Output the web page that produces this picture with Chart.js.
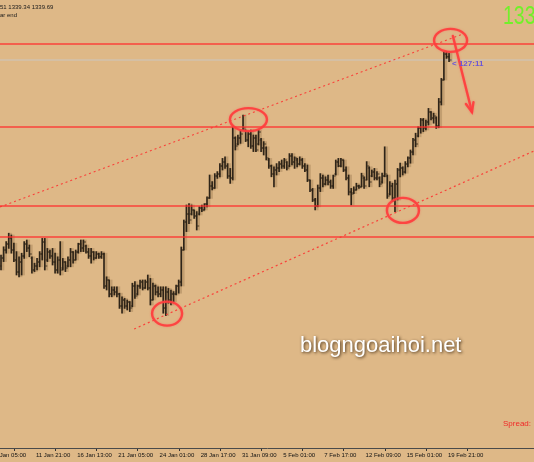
<!DOCTYPE html>
<html><head><meta charset="utf-8">
<script src="https://cdn.jsdelivr.net/npm/chart.js@4.4.1/dist/chart.umd.min.js"></script>
<style>html,body{margin:0;padding:0;background:#DEB887;overflow:hidden}canvas{display:block}</style>
</head><body>
<canvas id="c" width="534" height="462"></canvas>
<script>
// ---- data (H4 bars) ----
const highs = [1292.25,1294.3,1295.6,1297.7,1297.25,1295.2,1293.1,1291.8,1292.7,1295.6,
1296,1294.75,1291.8,1290.2,1291.4,1293.1,1296.4,1296.4,1293.9,1293.5,
1293.9,1292.7,1291.8,1295.6,1291.4,1290.6,1291.8,1293.9,1293.1,1293.5,
1295.2,1296,1296,1294.75,1293.9,1293.9,1293.1,1293.1,1292.7,1293.1,
1292.7,1286.8,1286,1284.3,1284.3,1284.3,1282.7,1281.8,1281.4,1281,
1280.6,1285.2,1285.6,1284.75,1286,1286,1286,1287.25,1286.4,1285.2,
1284.75,1284.3,1284.3,1284.3,1284.3,1283.9,1283.5,1283.1,1284.75,1286,
1294.25,1301,1304.75,1305.1,1304.75,1303.5,1303.1,1304.3,1304.75,1305.1,
1306.8,1312.25,1310.6,1312.6,1313.1,1315.1,1316.4,1316.8,1315.1,1313.9,
1324.3,1321.8,1322.25,1323.5,1327.25,1323.5,1323.1,1323.5,1322.25,1322.25,
1323.5,1321.4,1320.6,1319.3,1316.4,1314.75,1314.3,1315.1,1315.6,1316,
1316.4,1315.6,1317.6,1317.6,1316.8,1316.4,1316.8,1316.4,1315.1,1314.75,
1311,1308.9,1306.4,1309.75,1312.6,1312.25,1311.8,1312.25,1311,1312.25,
1316,1316.4,1316.4,1316,1314.3,1312.25,1308.9,1309.3,1310.2,1309.75,
1312.7,1311.8,1315.6,1314.3,1313.5,1313.9,1313.1,1311.8,1312.7,1319.3,
1312.25,1310.6,1310.2,1311,1313.9,1315.2,1314.3,1315.6,1316.8,1318.5,
1321.4,1322.7,1324.3,1326.4,1326.4,1326,1328.9,1328.1,1327.7,1326.8,
1331.4,1336.4,1343.1,1343.1,1342.7];
const lows = [1288.5,1290.6,1292.7,1293.9,1292.7,1290.6,1287.25,1286.8,1287.25,1291.4,
1293.1,1291.8,1287.7,1288.1,1288.5,1289.3,1291,1288.5,1290.6,1291.4,
1289.75,1287.7,1287.7,1287.25,1288.5,1288.1,1289.3,1289.3,1290.2,1291,
1292.7,1293.1,1293.1,1292.7,1291.4,1290.2,1291,1291.4,1291.4,1291.4,
1283.9,1283.5,1281.8,1281.8,1282.25,1281.8,1278.9,1277.7,1278.9,1278.5,
1278.1,1279.3,1281.4,1282.25,1283.9,1283.5,1283.9,1283.5,1279.75,1281,
1282.25,1281.8,1281.8,1277.7,1277.1,1280.2,1279.75,1280.6,1282.25,1282.7,
1284.5,1293.5,1298.1,1300.1,1302.25,1301.4,1298.5,1302.25,1303.1,1303.5,
1304.3,1306.4,1308.5,1308.9,1311.4,1311.8,1313.5,1313.9,1311.4,1310.15,
1311,1318.5,1319.75,1320.15,1323.5,1320.6,1319.3,1318.9,1318.1,1318.1,
1319.75,1318.1,1317.25,1316,1313.9,1311.8,1309.3,1312.25,1313.1,1313.9,
1313.9,1313.5,1314.3,1314.75,1313.9,1314.3,1314.75,1313.9,1313.1,1310.6,
1308.1,1305.6,1303.5,1304.3,1308.1,1309.3,1309.75,1309.75,1308.9,1308.9,
1312.25,1314.3,1314.3,1313.1,1311,1307.25,1304.75,1307.6,1308.5,1308.9,
1309.3,1308.9,1311,1309.3,1311.8,1311,1311,1309.3,1310.2,1311.8,
1306.4,1307.25,1305.6,1303.1,1306,1311.8,1312.25,1312.7,1314.3,1315.2,
1317.25,1319.3,1321.8,1322.7,1323.1,1323.5,1324.75,1326,1325.2,1323.9,
1324.1,1329.75,1336,1341.4,1340.6];
const opens = [1289.5,1291.5,1293.5,1295,1296.5,1293.5,1291,1288,1290.5,1292,
1295,1294,1291.5,1288.5,1289.5,1290.5,1292.5,1295.5,1291,1293,
1292,1290.5,1288.5,1291,1289,1290.5,1289.5,1291,1293,1291,
1293,1295,1294,1294.5,1293,1292,1293,1291.5,1292.5,1291.8,
1292.5,1284.5,1286,1282.5,1283.5,1283,1282.5,1279.5,1281,1279.5,
1280.5,1279.5,1284.5,1282.5,1284.5,1285.5,1284,1285.5,1284,1281,
1284.5,1283,1282.5,1283.5,1279,1283,1281,1282.5,1282.5,1284.5,
1285.5,1293.5,1300.5,1302.5,1302.5,1303.5,1302,1302.5,1304,1303.5,
1305,1306.5,1309.5,1309,1312,1312.5,1314.5,1315.5,1314.5,1312,
1311.5,1321.5,1320,1321.5,1323.5,1323.5,1321,1322.5,1319.5,1321.5,
1320,1321,1319,1319,1316,1314.5,1312.5,1313.5,1314,1315,
1314.5,1315.5,1314.5,1317,1315.5,1316,1315,1316,1314.5,1313.5,
1311,1308.5,1306,1304.5,1309,1311.5,1310,1311,1310.5,1309.5,
1312.5,1315.5,1314.5,1316,1313.5,1311.5,1308,1307.8,1308.5,1309.5,
1309.3,1311.5,1311,1314,1312,1313,1311.5,1311.5,1310.5,1312,
1312,1307.5,1309.5,1306.5,1310,1313.5,1314,1313,1315,1316.5,
1318,1321,1322,1324,1326,1324,1325.5,1328,1326.5,1326.5,
1324.5,1330.5,1336,1342.5,1341.8];
const closes = [1291.5,1293.5,1295,1296.5,1293.5,1291,1288,1290.5,1292,1295,
1294,1292.5,1288.5,1289.5,1290.5,1292.5,1295.5,1289.5,1293,1292,
1290.5,1288.5,1291,1288.5,1290.5,1289,1291,1293,1291,1293,
1295,1294,1295.5,1293,1292,1293,1291.5,1292.5,1291.8,1292.5,
1284.5,1286,1282.5,1283.5,1283,1282.5,1279.5,1281,1279.5,1280.5,
1279,1284.5,1282,1284.5,1285.5,1284,1285.5,1284,1281,1284.5,
1283,1282.5,1283.5,1279,1283,1281,1282.5,1282.5,1284.5,1285.5,
1293.5,1300.5,1302.5,1301,1303.5,1302,1299.5,1304,1303.5,1305,
1306.5,1309.5,1309,1312,1312.5,1314.5,1315.5,1314.5,1312,1311.5,
1321.5,1319.5,1321.5,1322.5,1324,1321,1322.5,1319.5,1321.5,1318.5,
1323,1319,1320,1316.5,1314.5,1312.5,1313.5,1314,1315,1314.5,
1316,1314,1317,1315.5,1316.5,1315,1316,1314.5,1313.5,1311,
1308.5,1306,1304.5,1309,1311.5,1310,1311,1310.5,1309.5,1312,
1315.5,1314.5,1316,1313.5,1311.5,1308,1307.5,1308.5,1309.5,1309.2,
1312,1309.5,1314.5,1310.5,1313,1311.5,1312.5,1310,1312,1312.5,
1307,1309.5,1306.5,1310,1313.5,1314,1313,1315,1316.5,1318,
1321,1320,1324,1326,1324,1325.5,1328,1326.5,1327,1324.5,
1330.5,1336,1342.5,1341.8,1341];
const tickIndex = [-3,13,29,45,61,77,93,109,125,141,157,173];
const tickLabels = ['9 Jan 05:00','11 Jan 21:00','16 Jan 13:00','21 Jan 05:00','24 Jan 01:00','28 Jan 17:00','31 Jan 09:00','5 Feb 01:00','7 Feb 17:00','12 Feb 09:00','15 Feb 01:00','19 Feb 21:00'];
const levelPrices = [1345, 1324.25, 1304.5, 1296.75];
const bidPrice = 1341;
const upperChannel = [[-0.58, 1304.25], [179.2, 1347.5]];
const lowerChannel = [[51.5, 1273.75], [206.8, 1318.25]];
const circleCenters = [[64.3, 1277.6], [95.9, 1326.1], [155.9, 1303.4], [174.4, 1345.9]];
const arrowEnds = [[175.3, 1347], [182.7, 1328]];
const headerText = ['51 1339.34 1339.69', 'ar end'];
const priceBig = '133';
const timerText = '< 127:11';
const spreadText = 'Spread:';
const watermark = 'blogngoaihoi.net';

// ---- style ----
const circleRadii = [[15, 12], [18.5, 11.5], [16, 12.5], [16.5, 11.5]];
const XMIN = -0.583, XMAX = 206.8;
const BAR = '#2e2418';
const TICKC = 'rgba(46,36,24,0.8)';
const RED = 'rgba(255,45,45,0.85)';
const FONT = '"Liberation Sans", "DejaVu Sans", sans-serif';
const idx = highs.map((_, i) => i);
const hline = (p, color, w, order) => ({
  type: 'line', data: [{x: XMIN - 2, y: p}, {x: XMAX + 2, y: p}],
  borderColor: color, borderWidth: w, pointRadius: 0, pointHoverRadius: 0, order
});

const overlay = {
  id: 'overlay',
  beforeDraw(chart) {
    const c = chart.ctx; c.save(); c.fillStyle = '#DEB887';
    c.fillRect(0, 0, chart.width, chart.height); c.restore();
  },
  afterDatasetsDraw(chart) {
    const {ctx, scales: {x, y}} = chart;
    ctx.save();
    ctx.strokeStyle = 'rgba(255,60,60,0.9)';
    ctx.lineWidth = 2.4;
    ctx.shadowColor = 'rgba(255,90,90,0.6)'; ctx.shadowBlur = 2;
    circleCenters.forEach((c, k) => {
      ctx.beginPath();
      ctx.ellipse(x.getPixelForValue(c[0]), y.getPixelForValue(c[1]), circleRadii[k][0], circleRadii[k][1], 0, 0, Math.PI * 2);
      ctx.stroke();
    });
    const x1 = x.getPixelForValue(arrowEnds[0][0]), y1 = y.getPixelForValue(arrowEnds[0][1]);
    const x2 = x.getPixelForValue(arrowEnds[1][0]), y2 = y.getPixelForValue(arrowEnds[1][1]);
    ctx.lineCap = 'round';
    ctx.beginPath(); ctx.moveTo(x1, y1); ctx.lineTo(x2, y2); ctx.stroke();
    const ang = Math.atan2(y2 - y1, x2 - x1), hl = 10, ha = 0.4;
    ctx.beginPath();
    ctx.moveTo(x2 - hl * Math.cos(ang - ha), y2 - hl * Math.sin(ang - ha));
    ctx.lineTo(x2, y2);
    ctx.lineTo(x2 - hl * Math.cos(ang + ha), y2 - hl * Math.sin(ang + ha));
    ctx.stroke();
    ctx.restore();
  },
  afterDraw(chart) {
    const ctx = chart.ctx;
    ctx.save();
    ctx.textBaseline = 'middle'; ctx.textAlign = 'left';
    ctx.fillStyle = '#1a1a1a';
    ctx.font = '6px ' + FONT;
    ctx.fillText(headerText[0], 0, 7);
    ctx.fillText(headerText[1], 0, 15.5);
    ctx.save();
    ctx.fillStyle = '#72F02A';
    ctx.font = '25px ' + FONT;
    ctx.translate(503, 17); ctx.scale(0.78, 1);
    ctx.fillText(priceBig, 0, 0);
    ctx.restore();
    ctx.fillStyle = '#6A55D8';
    ctx.font = 'bold 8px ' + FONT;
    ctx.fillText(timerText, 452, 64);
    ctx.fillStyle = '#F02828';
    ctx.font = '8px ' + FONT;
    ctx.fillText(spreadText, 503, 424);
    ctx.font = '22px ' + FONT;
    ctx.textBaseline = 'alphabetic';
    ctx.shadowColor = 'rgba(50,30,10,0.85)'; ctx.shadowBlur = 3; ctx.shadowOffsetX = 1; ctx.shadowOffsetY = 1;
    ctx.fillStyle = '#ffffff';
    ctx.fillText(watermark, 300, 352);
    ctx.restore();
  }
};

new Chart(document.getElementById('c'), {
  type: 'bar',
  data: {
    datasets: [
      ...levelPrices.map(p => hline(p, RED, 1.6, 0)),
      hline(bidPrice, 'rgba(200,200,200,0.9)', 1, 5),
      {type: 'line', data: upperChannel.map(p => ({x: p[0], y: p[1]})), borderColor: RED, borderWidth: 1.2, borderDash: [2, 3], pointRadius: 0, pointHoverRadius: 0, order: 0},
      {type: 'line', data: lowerChannel.map(p => ({x: p[0], y: p[1]})), borderColor: RED, borderWidth: 1.2, borderDash: [2, 3], pointRadius: 0, pointHoverRadius: 0, order: 0},
      {type: 'line', showLine: false, data: idx.map(i => ({x: i - 0.4, y: opens[i]})), pointStyle: 'line', pointRadius: 1, pointHoverRadius: 1, pointBorderWidth: 1, pointBorderColor: TICKC, pointBackgroundColor: TICKC, order: 1},
      {type: 'line', showLine: false, data: idx.map(i => ({x: i + 0.4, y: closes[i]})), pointStyle: 'line', pointRadius: 1, pointHoverRadius: 1, pointBorderWidth: 1, pointBorderColor: TICKC, pointBackgroundColor: TICKC, order: 1},
      {type: 'bar', data: idx.map(i => ({x: i, y: [lows[i], highs[i]]})), backgroundColor: BAR, barThickness: 1, borderWidth: 0, order: 2},
      {type: 'bar', data: idx.map(i => ({x: i, y: [lows[i], highs[i]]})), backgroundColor: 'rgba(110,80,45,0.25)', barThickness: 2.5, borderWidth: 0, order: 3}
    ]
  },
  options: {
    responsive: false, animation: false, devicePixelRatio: 1,
    layout: {padding: 0, autoPadding: false},
    events: [],
    plugins: {legend: {display: false}, tooltip: {enabled: false}},
    scales: {
      x: {
        type: 'linear', min: XMIN, max: XMAX, offset: false, stacked: false,
        grid: {drawOnChartArea: false, drawTicks: true, tickLength: 3, color: '#333'},
        border: {display: true, color: '#4a4a4a', width: 1},
        afterBuildTicks: s => { s.ticks = tickIndex.map(v => ({value: v})); },
        afterFit: s => { s.height = 14; s.paddingLeft = 0; s.paddingRight = 0; },
        ticks: {
          autoSkip: false, maxRotation: 0, minRotation: 0, align: 'start', padding: 1, labelOffset: 1,
          color: '#111', font: {family: FONT, size: 6},
          callback: v => tickLabels[tickIndex.indexOf(v)]
        }
      },
      y: {display: false, min: 1244, max: 1356}
    }
  },
  plugins: [overlay]
});
</script>
</body></html>
